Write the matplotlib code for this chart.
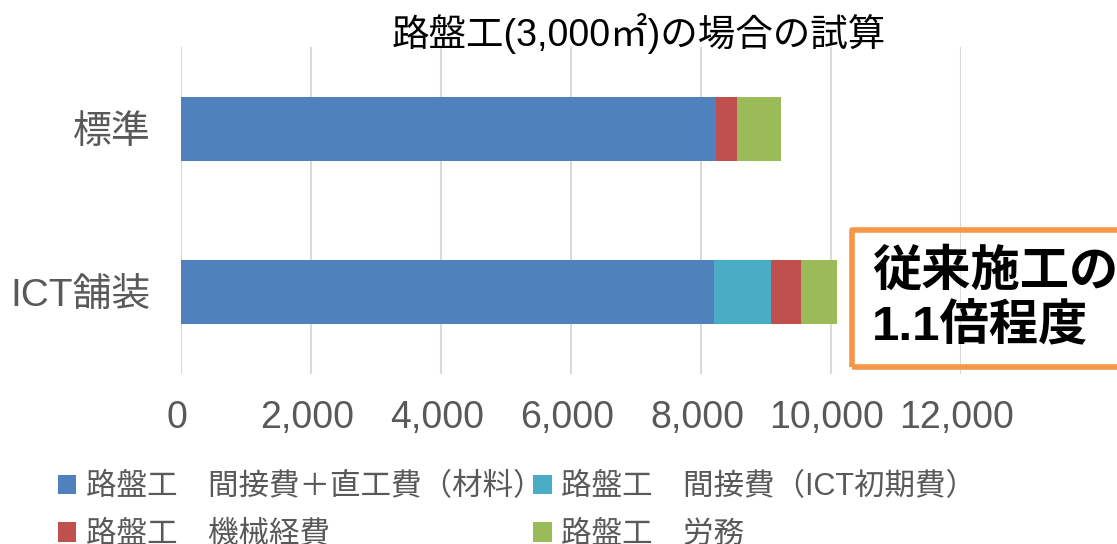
import matplotlib
matplotlib.use("Agg")
import matplotlib.pyplot as plt
from matplotlib.patches import Rectangle
import matplotlib.transforms as mtransforms

plt.rcParams['font.family'] = ['Liberation Sans', 'Noto Sans CJK JP', 'DejaVu Sans']

categories = ["ICT舗装", "標準"]
series_names = ["路盤工\u3000間接費＋直工費（材料）", "路盤工\u3000間接費（ICT初期費）",
                "路盤工\u3000機械経費", "路盤工\u3000労務"]
series_colors = ["#4F81BD", "#4BACC6", "#C0504D", "#9BBB59"]
s_direct = [8205, 8225]
s_ict = [874, 0]
s_machine = [465, 333]
s_labor = [547, 680]
series_values = [s_direct, s_ict, s_machine, s_labor]
x_ticks = [0, 2000, 4000, 6000, 8000, 10000, 12000]
x_ticklabels = ["0", "2,000", "4,000", "6,000", "8,000", "10,000", "12,000"]
title = "路盤工(3,000㎡)の場合の試算"
callout = "従来施工の\n1.1倍程度"

W, H = 1117, 544
fig = plt.figure(figsize=(W / 100, H / 100), dpi=100)
ax = fig.add_axes([181 / W, 1 - 374 / H, (961 - 181) / W, (374 - 47) / H])

ypos = list(range(len(categories)))
left = [0] * len(categories)
handles = []
for name, vals, col in zip(series_names, series_values, series_colors):
    b = ax.barh(ypos, vals, left=left, height=0.39, color=col, label=name, zorder=3)
    handles.append(b)
    left = [l + v for l, v in zip(left, vals)]

ax.set_xlim(0, 12000)
ax.set_ylim(-0.5, 1.5)
ax.set_xticks(x_ticks)
ax.set_xticklabels(x_ticklabels)
ax.set_yticks(ypos)
ax.set_yticklabels(categories)
ax.tick_params(axis='x', length=0, pad=19, labelsize=27, labelcolor="#595959")
ax.tick_params(axis='y', length=0, pad=22, labelsize=28, labelcolor="#595959")
shift = mtransforms.ScaledTranslation(-4 / 100, 0, fig.dpi_scale_trans)
for lbl in ax.get_xticklabels():
    lbl.set_transform(lbl.get_transform() + shift)
ax.grid(axis='x', color="#D9D9D9", linewidth=1.5, zorder=0)
for s in ax.spines.values():
    s.set_visible(False)

fig.text(639 / W, 1 - 33 / H, title, ha='center', va='center', fontsize=27, color="#000000")

order = [0, 2, 1, 3]
leg = fig.legend(handles=[handles[i] for i in order], labels=[series_names[i] for i in order],
                 ncol=2, loc='upper left', bbox_to_anchor=(58 / W, 1 - 472 / H),
                 frameon=False, fontsize=22, handlelength=0.6, handleheight=0.6,
                 handletextpad=0.3, columnspacing=-0.32, labelspacing=0.58,
                 borderaxespad=0, borderpad=0)
for t in leg.get_texts():
    t.set_color("#595959")

box = Rectangle((852 / W, 1 - 367 / H), (1130 - 852) / W, (367 - 230) / H,
                transform=fig.transFigure, fill=False, edgecolor="#F79646",
                linewidth=4, joinstyle='round', clip_on=False)
fig.patches.append(box)
fig.text(872 / W, 1 - 300 / H, callout, ha='left', va='center', fontsize=35.5,
         fontweight='bold', color="#000000", linespacing=1.2)

fig.savefig("out.png", dpi=100)
